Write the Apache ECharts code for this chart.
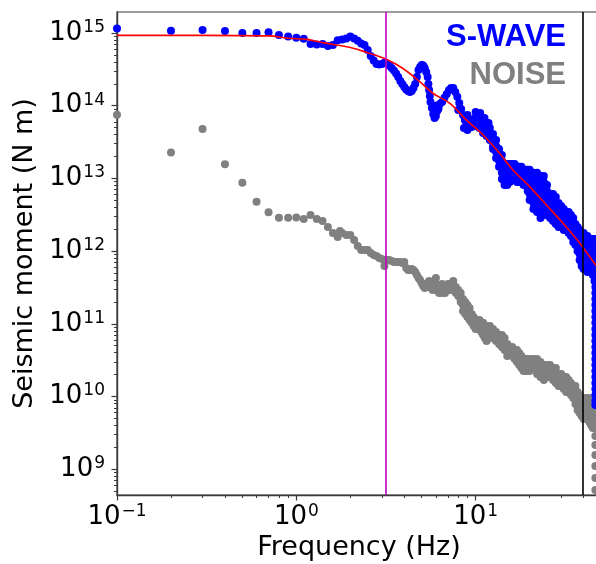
<!DOCTYPE html>
<html>
<head>
<meta charset="utf-8">
<script src="https://cdn.jsdelivr.net/npm/echarts@6/dist/echarts.min.js"></script>
<style>
  html, body { margin: 0; padding: 0; background: #ffffff; }
  #chart { width: 596px; height: 564px; }
</style>
</head>
<body>
<div id="chart"></div>
<script>
// ---- Spectrum data (frequency in Hz, seismic moment in N m) ----

// S-wave spectrum, low frequencies
const swaveLow = [
  [0.1, 1.15e15], [0.2, 1.07e15], [0.3, 1.1e15], [0.4, 1.06e15], [0.5, 1.0e15],
  [0.6, 1.0e15], [0.7, 1.02e15], [0.8, 9.4e14], [0.9, 8.9e14], [1.0, 8.6e14], [1.1, 8.3e14]
];

// S-wave spectrum, 1.2 - 12 Hz
const swaveMid = [
  [1.2, 7.06e14], [1.3, 6.95e14], [1.4, 7.06e14], [1.5, 6.63e14], [1.6, 6.84e14],
  [1.7, 7.9e14], [1.8, 8.1e14], [1.9, 8.4e14], [2.0, 8.9e14], [2.1, 8.4e14],
  [2.2, 7.8e14], [2.3, 7.17e14], [2.4, 6.84e14], [2.5, 5.83e14], [2.6, 4.83e14],
  [2.7, 4.19e14], [2.8, 3.75e14], [2.9, 3.69e14], [3.0, 3.75e14], [3.1, 3.9e14],
  [3.2, 3.81e14], [3.3, 3.57e14], [3.4, 3.30e14], [3.5, 3.05e14], [3.6, 2.77e14],
  [3.7, 2.48e14], [3.8, 2.19e14], [3.9, 1.99e14], [4.0, 1.81e14], [4.1, 1.67e14],
  [4.2, 1.59e14], [4.3, 1.54e14], [4.4, 1.59e14], [4.5, 1.75e14], [4.6, 1.99e14],
  [4.7, 2.48e14], [4.8, 3.10e14], [4.9, 3.41e14], [5.0, 3.63e14], [5.1, 3.57e14],
  [5.2, 3.30e14], [5.3, 2.91e14], [5.4, 2.48e14], [5.45, 1.99e14], [5.5, 1.64e14],
  [5.55, 1.36e14], [5.6, 1.12e14], [5.7, 9.3e13], [5.8, 7.69e13], [5.9, 6.77e13],
  [6.0, 7.22e13], [6.0, 1.0e14], [6.1, 8.45e13], [6.2, 9.6e13], [6.2, 9.0e13],
  [6.3, 1.055e14], [6.5, 1.12e14], [6.7, 1.28e14], [6.9, 1.45e14], [7.1, 1.64e14],
  [7.3, 1.75e14], [7.5, 1.75e14], [7.7, 1.54e14], [7.9, 1.32e14], [8.0, 8.7e13],
  [8.1, 1.09e14], [8.3, 9.0e13], [8.5, 7.45e13], [8.6, 4.93e13], [8.7, 6.36e13],
  [8.9, 5.78e13], [9.0, 4.63e13], [9.0, 7.45e13], [9.1, 5.6e13], [9.3, 5.97e13],
  [9.5, 5.09e13], [9.6, 6.36e13], [9.9, 6.77e13], [10.0, 5.26e13], [10.0, 8.19e13],
  [10.2, 7.0e13], [10.5, 6.56e13], [10.5, 4.93e13], [10.6, 7.94e13], [10.8, 5.97e13],
  [11.0, 4.21e13], [11.1, 5.43e13], [11.2, 6.77e13], [11.4, 5.09e13], [11.5, 3.83e13],
  [11.7, 4.63e13], [11.8, 5.78e13]
];

// S-wave spectrum above 12 Hz: each row is a frequency and the moments read across the band
const swaveHigh = [
  [12, [4.93e13, 4.08e13, 3.37e13]],
  [12.5, [4.08e13, 3.37e13, 2.79e13, 2.54e13]],
  [13, [3.37e13, 2.79e13, 2.31e13, 1.91e13]],
  [13.5, [2.54e13, 2.10e13, 1.74e13, 1.44e13]],
  [14, [2.10e13, 1.74e13, 1.44e13, 1.19e13, 9.81e12]],
  [14.5, [1.58e13, 1.31e13, 1.08e13, 8.92e12, 8.11e12]],
  [15, [1.58e13, 1.31e13, 1.08e13, 8.92e12, 8.11e12]],
  [15.5, [1.58e13, 1.31e13, 1.08e13, 8.92e12]],
  [16, [1.58e13, 1.31e13, 1.08e13, 9.81e12]],
  [16.5, [1.58e13, 1.31e13, 1.08e13, 9.81e12]],
  [17, [1.44e13, 1.19e13, 9.81e12, 8.92e12]],
  [17.5, [1.44e13, 1.19e13, 9.81e12, 8.92e12]],
  [18, [1.44e13, 1.19e13, 9.81e12, 8.92e12]],
  [18.5, [1.31e13, 1.08e13, 8.92e12, 8.11e12]],
  [19, [1.31e13, 1.08e13, 8.92e12, 8.11e12]],
  [19.5, [1.31e13, 1.08e13, 8.92e12, 7.38e12, 6.71e12]],
  [20, [1.31e13, 1.08e13, 8.92e12, 7.38e12, 6.10e12, 5.05e12]],
  [21, [1.19e13, 9.81e12, 8.11e12, 6.71e12, 5.55e12, 4.59e12, 3.79e12]],
  [22, [1.19e13, 9.81e12, 8.11e12, 6.71e12, 5.55e12, 4.59e12, 3.79e12, 3.45e12]],
  [23, [1.08e13, 8.92e12, 7.38e12, 6.10e12, 5.05e12, 4.17e12, 3.45e12, 2.85e12]],
  [24, [1.08e13, 8.92e12, 7.38e12, 6.10e12, 5.05e12, 4.17e12, 3.45e12, 3.14e12]],
  [25, [8.11e12, 6.71e12, 5.55e12, 4.59e12, 3.79e12, 3.14e12]],
  [26, [6.10e12, 5.05e12, 4.17e12, 3.45e12, 2.85e12]],
  [27, [6.10e12, 5.05e12, 4.17e12, 3.45e12, 2.85e12, 2.59e12]],
  [28, [5.55e12, 4.59e12, 3.79e12, 3.14e12, 2.59e12, 2.36e12]],
  [29, [4.59e12, 3.79e12, 3.14e12, 2.59e12, 2.15e12]],
  [30, [4.17e12, 3.45e12, 2.85e12, 2.36e12, 2.15e12]],
  [31, [3.79e12, 3.14e12, 2.59e12, 2.15e12, 1.95e12]],
  [32, [3.45e12, 2.85e12, 2.36e12, 1.95e12]],
  [33, [3.45e12, 2.85e12, 2.36e12, 1.95e12, 1.77e12]],
  [34, [3.14e12, 2.59e12, 2.15e12, 1.77e12, 1.61e12]],
  [35, [2.85e12, 2.36e12, 1.95e12, 1.61e12, 1.33e12]],
  [36, [2.36e12, 1.95e12, 1.61e12, 1.33e12, 1.21e12]],
  [37, [2.15e12, 1.77e12, 1.47e12, 1.21e12, 1.00e12]],
  [38, [1.95e12, 1.61e12, 1.33e12, 1.10e12, 9.12e11, 7.55e11]],
  [39, [1.77e12, 1.47e12, 1.21e12, 1.00e12, 8.30e11, 6.86e11, 6.24e11]],
  [40, [1.77e12, 1.47e12, 1.21e12, 1.00e12, 8.30e11, 6.86e11, 5.67e11]],
  [41, [1.61e12, 1.33e12, 1.10e12, 9.12e11, 7.55e11, 6.24e11, 5.67e11]],
  [42, [1.61e12, 1.33e12, 1.10e12, 9.12e11, 7.55e11, 6.24e11, 5.16e11]],
  [43, [1.47e12, 1.21e12, 1.00e12, 8.30e11, 6.86e11, 5.67e11]],
  [44, [1.47e12, 1.21e12, 1.00e12, 8.30e11, 6.86e11, 5.67e11, 5.16e11]],
  [45, [1.47e12, 1.21e12, 1.00e12, 8.30e11, 6.86e11, 5.67e11, 4.69e11]],
  [46, [1.47e12, 1.21e12, 1.00e12, 8.30e11, 6.86e11, 5.67e11, 4.69e11, 3.88e11]],
  [46.5, [3.21e11, 2.65e11, 2.19e11, 1.81e11, 1.50e11, 1.24e11, 1.03e11, 8.48e10, 7.01e10,
          5.80e10, 4.80e10, 3.97e10, 3.28e10, 2.71e10, 2.24e10, 1.85e10, 1.53e10, 1.27e10,
          1.05e10, 8.67e9, 7.64e9]]
];

// Noise spectrum, low frequencies
const noiseLow = [
  [0.1, 7.5e13], [0.2, 2.26e13], [0.3, 4.78e13], [0.4, 1.56e13], [0.5, 8.73e12],
  [0.6, 4.78e12], [0.7, 3.42e12], [0.8, 2.88e12], [0.9, 2.88e12], [1.0, 2.9e12], [1.1, 2.77e12]
];

// Noise spectrum, 1.2 - 5.4 Hz
const noiseMid = [
  [1.2, 3.14e12], [1.3, 2.76e12], [1.4, 2.59e12], [1.5, 2.15e12], [1.6, 1.77e12],
  [1.7, 1.56e12], [1.75, 1.89e12], [1.8, 1.77e12], [1.9, 1.67e12], [2.0, 1.67e12],
  [2.1, 1.42e12], [2.2, 1.17e12], [2.3, 1.035e12], [2.4, 1.035e12], [2.5, 1.035e12],
  [2.6, 9.42e11], [2.7, 8.84e11], [2.8, 8.57e11], [2.9, 8.04e11], [3.0, 7.79e11],
  [3.1, 6.24e11], [3.1, 7.55e11], [3.2, 7.55e11], [3.3, 7.55e11], [3.4, 7.31e11],
  [3.5, 7.08e11], [3.6, 7.08e11], [3.7, 7.08e11], [3.8, 7.08e11], [3.9, 6.86e11],
  [4.0, 7.08e11], [4.1, 5.86e11], [4.2, 5.50e11], [4.3, 5.50e11], [4.4, 5.67e11],
  [4.5, 5.50e11], [4.6, 5.16e11], [4.7, 4.69e11], [4.8, 4.27e11], [4.9, 4.00e11],
  [5.0, 3.64e11], [5.1, 3.31e11], [5.2, 3.11e11], [5.3, 3.31e11], [5.4, 3.64e11]
];

// Noise spectrum above 5.5 Hz: frequency and the moments read across the band
const noiseHigh = [
  [5.5, [3.88e11, 3.21e11]],
  [5.75, [3.53e11, 2.92e11]],
  [6, [4.27e11, 3.53e11, 2.92e11]],
  [6.25, [3.21e11, 2.65e11]],
  [6.5, [3.53e11, 2.92e11, 2.65e11]],
  [6.75, [3.21e11, 2.65e11]],
  [7, [3.53e11, 2.92e11]],
  [7.25, [3.53e11, 2.92e11]],
  [7.5, [3.88e11, 3.21e11]],
  [7.75, [3.21e11, 2.65e11]],
  [8, [2.92e11, 2.41e11]],
  [8.25, [2.65e11, 2.19e11, 1.99e11]],
  [8.5, [2.19e11, 1.81e11, 1.50e11]],
  [8.75, [1.99e11, 1.65e11, 1.36e11]],
  [9, [1.81e11, 1.50e11, 1.24e11]],
  [9.25, [1.65e11, 1.36e11, 1.13e11]],
  [9.5, [1.36e11, 1.13e11, 1.03e11]],
  [9.75, [1.24e11, 1.03e11, 9.33e10]],
  [10, [1.13e11, 9.33e10, 8.48e10]],
  [10.25, [1.13e11, 9.33e10, 8.48e10]],
  [10.5, [1.13e11, 9.33e10]],
  [10.75, [1.03e11, 8.48e10, 7.72e10]],
  [11, [1.03e11, 8.48e10, 7.01e10]],
  [11.25, [9.33e10, 7.72e10, 6.38e10]],
  [11.5, [9.33e10, 7.72e10, 6.38e10, 5.80e10]],
  [12, [9.33e10, 7.72e10, 6.38e10]],
  [12.5, [8.48e10, 7.01e10, 6.38e10]],
  [13, [7.72e10, 6.38e10, 5.80e10]],
  [13.5, [7.01e10, 5.80e10, 5.28e10]],
  [14, [7.01e10, 5.80e10, 4.80e10]],
  [14.5, [6.38e10, 5.28e10, 4.36e10]],
  [15, [5.28e10, 4.36e10, 3.61e10]],
  [15.5, [4.80e10, 3.97e10]],
  [16, [4.80e10, 3.97e10, 3.61e10]],
  [16.5, [4.36e10, 3.61e10, 3.28e10]],
  [17, [4.36e10, 3.61e10, 2.98e10]],
  [17.5, [3.97e10, 3.28e10, 2.71e10]],
  [18, [3.61e10, 2.98e10, 2.47e10]],
  [18.5, [3.28e10, 2.71e10, 2.24e10]],
  [19, [3.28e10, 2.71e10, 2.24e10]],
  [19.5, [3.28e10, 2.71e10, 2.24e10]],
  [20, [3.28e10, 2.71e10, 2.24e10]],
  [21, [3.28e10, 2.71e10, 2.47e10]],
  [22, [3.28e10, 2.71e10, 2.24e10, 2.04e10]],
  [23, [2.98e10, 2.47e10, 2.04e10, 1.85e10]],
  [24, [2.71e10, 2.24e10, 1.85e10, 1.69e10]],
  [25, [2.71e10, 2.24e10, 1.85e10]],
  [26, [2.71e10, 2.24e10, 1.85e10]],
  [27, [2.47e10, 2.04e10, 1.69e10]],
  [28, [2.47e10, 2.04e10, 1.69e10, 1.53e10]],
  [29, [2.04e10, 1.69e10, 1.39e10]],
  [30, [2.04e10, 1.69e10, 1.39e10]],
  [31, [1.85e10, 1.53e10, 1.27e10]],
  [32, [1.85e10, 1.53e10, 1.27e10, 1.15e10]],
  [33, [1.69e10, 1.39e10, 1.15e10]],
  [34, [1.53e10, 1.27e10, 1.05e10]],
  [35, [1.39e10, 1.15e10, 9.54e9]],
  [36, [1.39e10, 1.15e10, 9.54e9, 7.89e9]],
  [37, [1.15e10, 9.54e9, 7.89e9, 6.52e9]],
  [38, [1.05e10, 8.67e9, 7.17e9, 5.93e9]],
  [39, [9.54e9, 7.89e9, 6.52e9, 5.39e9]],
  [40, [8.67e9, 7.17e9, 5.93e9, 4.90e9]],
  [41, [9.54e9, 7.89e9, 6.52e9, 5.39e9]],
  [42, [9.54e9, 7.89e9, 6.52e9]],
  [43, [9.54e9, 7.89e9, 6.52e9, 5.39e9, 4.46e9]],
  [44, [8.67e9, 7.17e9, 5.93e9, 4.90e9, 4.05e9]],
  [45, [7.89e9, 6.52e9, 5.39e9, 4.46e9, 3.69e9]],
  [46, [8.67e9, 7.17e9, 5.93e9, 4.90e9]],
  [46.5, [5.93e9, 4.75e9, 3.69e9, 2.86e9, 2.15e9, 1.57e9, 1.11e9, 7.57e8, 5.18e8]]
];

// Fitted source spectrum
const fitCurve = [
  [0.1, 9.25e14], [0.3, 9.25e14], [0.7, 9.1e14], [0.91, 8.45e14], [1.15, 8.15e14],
  [1.4, 7.36e14], [1.98, 6.36e14], [2.45, 5.43e14], [3.17, 4.35e14], [3.92, 3.27e14],
  [4.86, 2.15e14], [5.77, 1.48e14], [7.16, 1.08e14], [8.87, 6.36e13], [11.0, 3.95e13],
  [13.6, 2.21e13], [16.1, 1.31e13], [20.0, 7.7e12], [24.8, 4.31e12], [30.7, 2.41e12],
  [38.1, 1.28e12], [46.8, 6.44e11], [50, 5.6e11]
];

// Corner-frequency and upper-limit markers (Hz)
const cornerFreq = 3.16;
const upperFreq = 39.6;

// Axis ranges and ticks
const xRange = [0.1, 50];
const yRange = [4.42e8, 1.94e15];
const xMajorTicks = [0.1, 1, 10];
const xMinorTicks = [0.2, 0.3, 0.4, 0.5, 0.6, 0.7, 0.8, 0.9, 2, 3, 4, 5, 6, 7, 8, 9, 20, 30, 40];
const yMajorTicks = [1e9, 1e10, 1e11, 1e12, 1e13, 1e14, 1e15];
const yMinorTicks = [5e8, 6e8, 7e8, 8e8, 9e8];
[1e9, 1e10, 1e11, 1e12, 1e13, 1e14].forEach(function (d) {
  [2, 3, 4, 5, 6, 7, 8, 9].forEach(function (k) { yMinorTicks.push(k * d); });
});

// Labels
const swaveLabel = 'S-WAVE';
const noiseLabel = 'NOISE';
const xTitle = 'Frequency (Hz)';
const yTitle = 'Seismic moment (N m)';

// ---- Build series data ----
function expandRows(rows) {
  const out = [];
  rows.forEach(function (r) { r[1].forEach(function (m) { out.push([r[0], m]); }); });
  return out;
}
const swaveData = swaveLow.concat(swaveMid, expandRows(swaveHigh));
const noiseData = noiseLow.concat(noiseMid, expandRows(noiseHigh));

const FONT = 'DejaVu Sans';
const AXIS_COLOR = '#3a3a3a';

function powerLabel(v) {
  const e = Math.round(Math.log10(v));
  const s = String(e).replace('-', '\u2212');
  return '{b|10}{e|' + s + '}';
}
const powerRich = {
  b: { fontFamily: FONT, fontSize: 26, color: '#000', lineHeight: 28 },
  e: { fontFamily: FONT, fontSize: 17, color: '#000', lineHeight: 28, verticalAlign: 'top', padding: [0, 0, 0, 1] }
};

const chart = echarts.init(document.getElementById('chart'), null, { renderer: 'canvas' });

const option = {
  animation: false,
  backgroundColor: '#ffffff',
  grid: {
    left: 117, top: 12, right: -5, bottom: 69,
    containLabel: false,
    outerBoundsMode: 'none',
    show: true, borderColor: AXIS_COLOR, borderWidth: 1.2, backgroundColor: 'transparent'
  },
  xAxis: [
    {
      type: 'log', logBase: 10, min: xRange[0], max: xRange[1], position: 'bottom',
      name: xTitle, nameLocation: 'middle', nameGap: 37,
      nameTextStyle: { fontFamily: FONT, fontSize: 27, color: '#000' },
      axisLine: { show: true, lineStyle: { color: AXIS_COLOR, width: 1.4 } },
      axisTick: { show: true, inside: false, length: 5.5, customValues: xMajorTicks, lineStyle: { color: AXIS_COLOR, width: 1.2 } },
      axisLabel: { show: true, customValues: xMajorTicks, margin: 8, formatter: powerLabel, rich: powerRich },
      splitLine: { show: false }, minorTick: { show: false }
    },
    {
      type: 'log', logBase: 10, min: xRange[0], max: xRange[1], position: 'bottom',
      axisLine: { show: false },
      axisTick: { show: true, inside: false, length: 3, customValues: xMinorTicks, lineStyle: { color: AXIS_COLOR, width: 1 } },
      axisLabel: { show: false },
      splitLine: { show: false }
    }
  ],
  yAxis: [
    {
      type: 'log', logBase: 10, min: yRange[0], max: yRange[1], position: 'left',
      name: yTitle, nameLocation: 'middle', nameGap: 76,
      nameTextStyle: { fontFamily: FONT, fontSize: 27, color: '#000' },
      axisLine: { show: true, lineStyle: { color: AXIS_COLOR, width: 1.4 } },
      axisTick: { show: true, inside: false, length: 5.5, customValues: yMajorTicks, lineStyle: { color: AXIS_COLOR, width: 1.2 } },
      axisLabel: { show: true, customValues: yMajorTicks, margin: 12, formatter: powerLabel, rich: powerRich },
      splitLine: { show: false }, minorTick: { show: false }
    },
    {
      type: 'log', logBase: 10, min: yRange[0], max: yRange[1], position: 'left',
      axisLine: { show: false },
      axisTick: { show: true, inside: false, length: 3, customValues: yMinorTicks, lineStyle: { color: AXIS_COLOR, width: 1 } },
      axisLabel: { show: false },
      splitLine: { show: false }
    }
  ],
  graphic: [
    { type: 'text', z: 100, style: { x: 566, y: 37, text: swaveLabel, textAlign: 'right', textVerticalAlign: 'middle',
      font: 'bold 31px "Liberation Sans", Arial, sans-serif', fill: '#0000ff' } },
    { type: 'text', z: 100, style: { x: 566, y: 75, text: noiseLabel, textAlign: 'right', textVerticalAlign: 'middle',
      font: 'bold 31px "Liberation Sans", Arial, sans-serif', fill: '#808080' } }
  ],
  series: [
    {
      name: noiseLabel, type: 'scatter', xAxisIndex: 0, yAxisIndex: 0,
      data: noiseData, symbol: 'circle', symbolSize: 8,
      itemStyle: { color: '#808080', opacity: 1 }, z: 2, silent: true, clip: true
    },
    {
      name: swaveLabel, type: 'scatter', xAxisIndex: 0, yAxisIndex: 0,
      data: swaveData, symbol: 'circle', symbolSize: 8,
      itemStyle: { color: '#0000ff', opacity: 1 }, z: 3, silent: true, clip: true
    },
    {
      name: 'fit', type: 'line', xAxisIndex: 0, yAxisIndex: 0,
      data: fitCurve, smooth: 0.35, showSymbol: false, symbol: 'none',
      lineStyle: { color: '#ff0000', width: 1.6 }, z: 4, silent: true,
      markLine: {
        silent: true, symbol: ['none', 'none'], label: { show: false },
        emphasis: { disabled: true },
        data: [
          { xAxis: cornerFreq, lineStyle: { color: '#bf00bf', width: 1.6, type: 'solid' } },
          { xAxis: upperFreq, lineStyle: { color: '#000000', width: 1.6, type: 'solid' } }
        ]
      }
    }
  ]
};

chart.setOption(option);
</script>
</body>
</html>
